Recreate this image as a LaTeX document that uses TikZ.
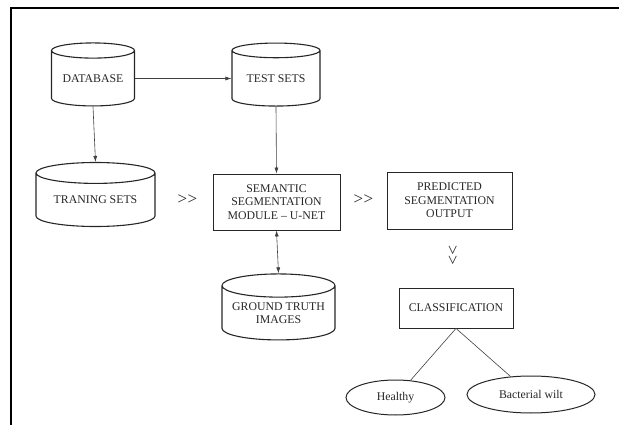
\documentclass[tikz,border=0pt]{standalone}
\usepackage{fontspec}
\setmainfont{Liberation Serif}
\usetikzlibrary{positioning,arrows.meta,shapes.geometric}

\begin{document}
\begin{tikzpicture}[x=1pt,y=-1pt,
  every node/.style={font=\fontsize{11.8}{13.5}\selectfont,text=black!85},
  db/.style={cylinder,shape border rotate=90,aspect=0.25,draw=black!85,line width=1.1pt,align=center,inner sep=0pt},
  box/.style={rectangle,draw=black!85,line width=0.8pt,align=center,inner sep=0pt},
  leaf/.style={ellipse,draw=black!85,line width=1pt,inner sep=0pt},
  link/.style={-{Latex[length=6pt,width=4pt]},draw=black!75,line width=0.6pt},
  chev/.style={font=\fontsize{17}{17}\selectfont,inner sep=0pt}]
\useasboundingbox (0,0) rectangle (619,425);
% --- frame ---
\draw[line width=1.6pt] (11,425) -- (11,8) -- (619,8);
% --- data stores ---
\node[db,minimum width=83,minimum height=63] (data) at (93,78.5) {DATABASE};
\node[db,minimum width=88,minimum height=63] (test) at (276,78.5) {TEST SETS};
\node[db,minimum width=119,minimum height=64] (train) at (95.5,200) {TRANING SETS};
\node[db,minimum width=113,minimum height=66] (truth) at (278.5,313) {GROUND TRUTH\\IMAGES};
% --- processing ---
\node[box,minimum width=127,minimum height=56] (unet) at (276.5,202) {SEMANTIC\\SEGMENTATION\\MODULE -- U-NET};
\node[box,minimum width=125,minimum height=57] (pred) at (449.5,200.5) {PREDICTED\\SEGMENTATION\\OUTPUT};
\node[box,minimum width=114,minimum height=40] (cls) at (456,308) {CLASSIFICATION};
% --- classes ---
\node[leaf,minimum width=99,minimum height=35] (healthy) at (395.5,397.5) {Healthy};
\node[leaf,minimum width=128,minimum height=37] (wilt) at (531,394.5) {Bacterial wilt};
% --- flow marks ---
\node[chev] (fa) at (187.5,200) {{>}\kern0.5pt{>}};
\node[chev] (fb) at (363.5,200) {{>}\kern0.5pt{>}};
\node[chev,rotate=-90] (fc) at (452,255) {{>}\kern0.5pt{>}};
% --- connectors ---
\draw[link] (data.east) -- (test.west);
\draw[link] (data.south) -- (train.north);
\draw[link] (test.south) -- (unet.north);
\draw[link,{Latex[length=6pt,width=4pt]}-{Latex[length=6pt,width=4pt]}] (unet.south) -- (truth.north);
\draw[draw=black!75,line width=0.6pt] (cls.south) -- (healthy);
\draw[draw=black!75,line width=0.6pt] (cls.south) -- (wilt);
\end{tikzpicture}
\end{document}
